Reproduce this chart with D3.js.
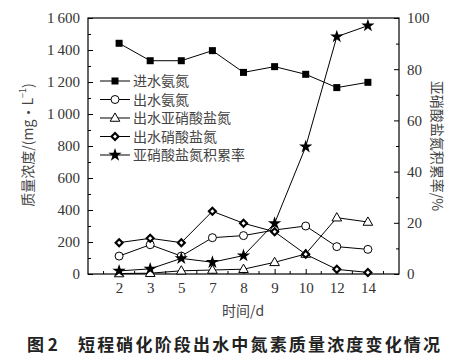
<!DOCTYPE html>
<html><head><meta charset="utf-8">
<script src="https://cdn.jsdelivr.net/npm/d3@7"></script>
<style>body{margin:0;background:#fff}</style>
</head><body>
<svg id="c" width="471" height="357"></svg>
<script>
const days = ["2","3","5","7","8","9","10","12","14"];
const influentNH4 = [1442,1333,1333,1396,1260,1296,1248,1165,1198];
const effluentNH4 = [112,183,112,227,240,275,300,171,154];
const effluentNO2 = [3,5,20,25,30,73,125,352,325];
const effluentNO3 = [196,223,196,392,317,264,123,29,10];
const accumRate = [1.2,2,6.1,4.6,7.2,19.8,49.7,92.7,97];
const leftTicks = [0,200,400,600,800,1000,1200,1400,1600];
const rightTicks = [0,20,40,60,80,100];
const legendNames = ["进水氨氮","出水氨氮","出水亚硝酸盐氮","出水硝酸盐氮","亚硝酸盐氮积累率"];

const svg = d3.select("#c");
const L=88, R=399, T=18, B=274;
const x = d3.scalePoint().domain(days).range([L,R]).padding(1);
const yL = d3.scaleLinear().domain([0,1600]).range([B,T]);
const yR = d3.scaleLinear().domain([0,100]).range([B,T]);
const numFont = "'Liberation Serif','Times New Roman',serif";
const cjk = "'Noto Sans CJK SC','Noto Sans',sans-serif";
const fmtL = v => v>=1000 ? Math.floor(v/1000)+"\u2009"+String(v%1000).padStart(3,"0") : String(v);

// frame
svg.append("rect").attr("x",L).attr("y",T).attr("width",R-L).attr("height",B-T)
  .attr("fill","none").attr("stroke","#000").attr("stroke-width",1.2);

// left axis
const gl = svg.append("g").attr("transform",`translate(${L},0)`);
gl.call(d3.axisLeft(yL).tickValues(leftTicks).tickSize(-5).tickPadding(8).tickFormat(fmtL));
gl.append("g").call(d3.axisLeft(yL).tickValues(d3.range(100,1600,200)).tickSize(-3).tickFormat(""));
// right axis
const gr = svg.append("g").attr("transform",`translate(${R},0)`);
gr.call(d3.axisRight(yR).tickValues(rightTicks).tickSize(-5).tickPadding(8));
gr.append("g").call(d3.axisRight(yR).tickValues(d3.range(10,100,20)).tickSize(-3).tickFormat(""));
// bottom axis
const gb = svg.append("g").attr("transform",`translate(0,${B})`);
gb.call(d3.axisBottom(x).tickSize(-5).tickPadding(8));
const step = x.step();
const minorX = d3.range(0, days.length+1).map(i => x(days[0]) - step/2 + i*step);
gb.selectAll(".minor").data(minorX).enter().append("line").attr("class","minor")
  .attr("x1",d=>d).attr("x2",d=>d).attr("y1",0).attr("y2",-3).attr("stroke","#000");

svg.selectAll(".domain").remove();
svg.selectAll(".tick line").attr("stroke","#000");
svg.selectAll(".tick text").attr("font-family",numFont).attr("font-size",15).attr("fill","#333");

// marker symbols
function marker(g, type){
  if(type===0) g.append("rect").attr("x",-3.5).attr("y",-3.5).attr("width",7).attr("height",7).attr("fill","#000");
  else if(type===1) g.append("circle").attr("r",4).attr("fill","#fff").attr("stroke","#000").attr("stroke-width",1);
  else if(type===2) g.append("path").attr("d",d3.symbol(d3.symbolTriangle,40)()).attr("transform","translate(0,0.5)").attr("fill","#fff").attr("stroke","#000").attr("stroke-width",1);
  else if(type===3){ g.append("path").attr("d","M0,-5L5,0L0,5L-5,0Z").attr("fill","#000");
    g.append("path").attr("d","M0,-2L2,0L0,2L-2,0Z").attr("fill","#fff"); }
  else g.append("path").attr("d",d3.symbol(d3.symbolStar,55)()).attr("fill","#000");
}

const series = [
  {v:influentNH4, y:yL, t:0},
  {v:effluentNH4, y:yL, t:1},
  {v:effluentNO2, y:yL, t:2},
  {v:effluentNO3, y:yL, t:3},
  {v:accumRate, y:yR, t:4}
];
const line = (ys) => d3.line().x((d,i)=>x(days[i])).y(d=>ys(d));
series.forEach(s=>{
  svg.append("path").attr("d",line(s.y)(s.v)).attr("fill","none").attr("stroke","#000").attr("stroke-width",1);
});
series.forEach(s=>{
  s.v.forEach((d,i)=>{
    const g = svg.append("g").attr("transform",`translate(${x(days[i])},${s.y(d)})`);
    marker(g,s.t);
  });
});

// legend
const lgY = [81,99.5,118,136.5,155];
legendNames.forEach((n,i)=>{
  const g = svg.append("g");
  g.append("line").attr("x1",100).attr("x2",130).attr("y1",lgY[i]).attr("y2",lgY[i]).attr("stroke","#000");
  const m = g.append("g").attr("transform",`translate(115,${lgY[i]})`);
  marker(m,i);
  g.append("text").attr("x",133).attr("y",lgY[i]).attr("dy","0.36em")
    .attr("font-family",cjk).attr("font-size",14).attr("fill","#444").text(n);
});

// axis titles
const yt = svg.append("text").attr("transform","translate(27,145) rotate(-90)").attr("text-anchor","middle")
  .attr("dominant-baseline","central").attr("font-family",cjk).attr("font-size",14).attr("fill","#444");
yt.append("tspan").text("质量浓度/(mg·L");
yt.append("tspan").attr("font-size",9).attr("dy",-5).text("−1");
yt.append("tspan").attr("dy",5).text(")");
svg.append("text").attr("transform","translate(438,146) rotate(90)").attr("text-anchor","middle")
  .attr("dominant-baseline","central").attr("font-family",cjk).attr("font-size",14).attr("fill","#444")
  .text("亚硝酸盐氮积累率/%");
svg.append("text").attr("x",243).attr("y",310).attr("text-anchor","middle").attr("dominant-baseline","central")
  .attr("font-family",cjk).attr("font-size",14).attr("fill","#444").text("时间/d");
const cap = svg.append("text").attr("y",343).attr("dominant-baseline","central")
  .attr("font-family",cjk).attr("font-size",17).attr("font-weight","bold").attr("fill","#222");
cap.append("tspan").attr("x",27).text("图 2");
cap.append("tspan").attr("x",78).attr("textLength",362).attr("lengthAdjust","spacing").text("短程硝化阶段出水中氮素质量浓度变化情况");
</script>
</body></html>
